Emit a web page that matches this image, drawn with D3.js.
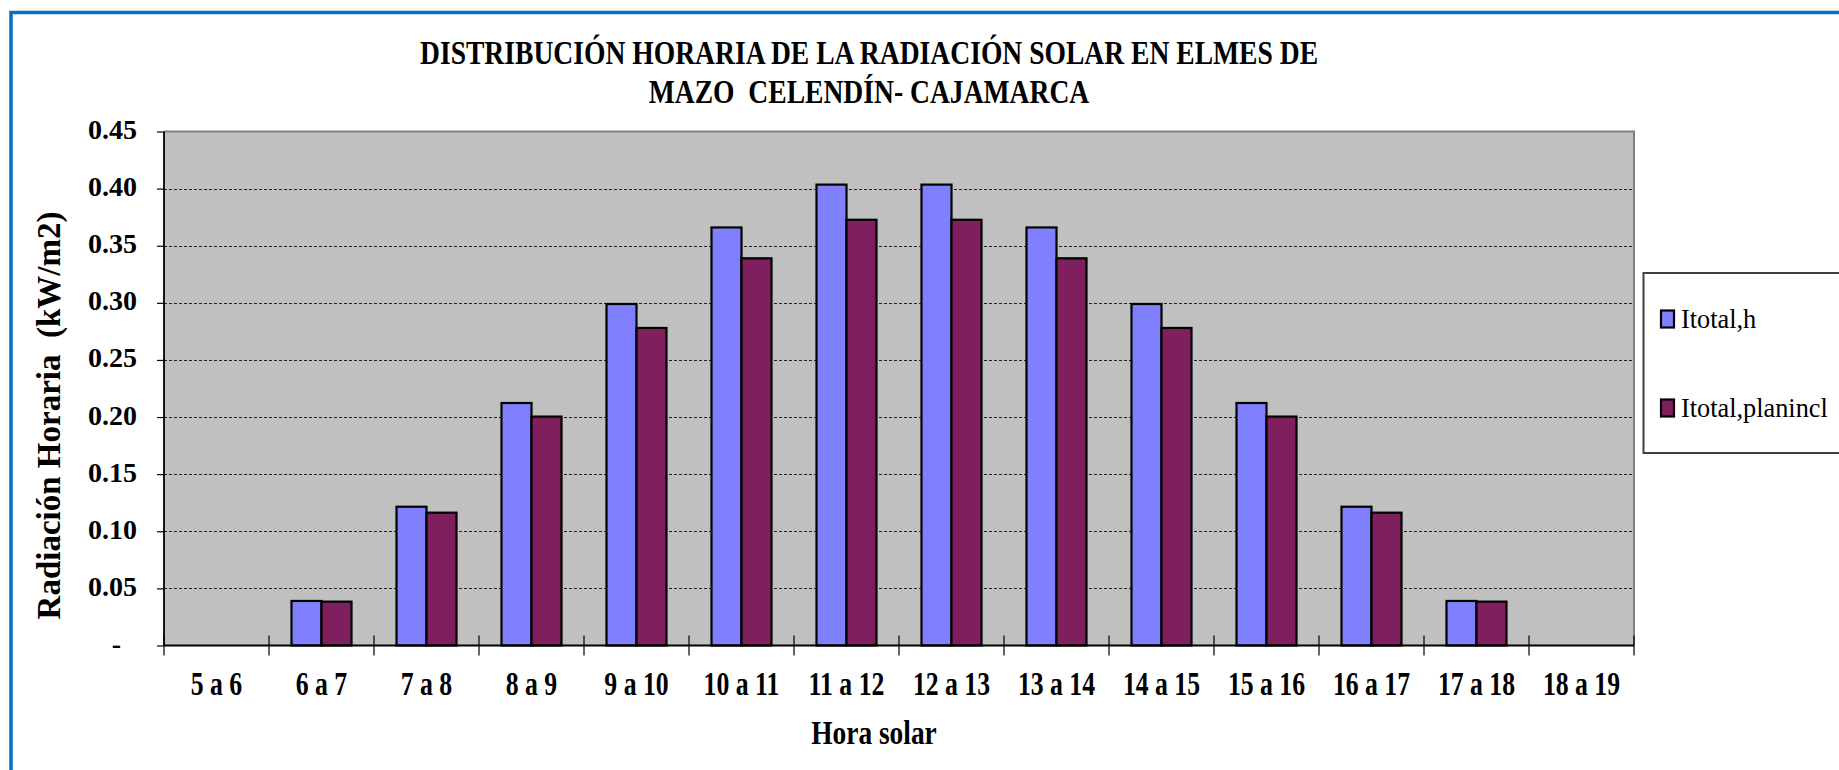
<!DOCTYPE html>
<html>
<head>
<meta charset="utf-8">
<script src="https://cdn.jsdelivr.net/npm/d3@7"></script>
<style>
  html, body { margin: 0; padding: 0; background: #ffffff; }
  svg { display: block; }
  text { font-family: "Liberation Serif", "Times New Roman", serif; }
</style>
</head>
<body>
<script>
// Hourly solar radiation, March — Celendín, Cajamarca
const categories = ["5 a 6", "6 a 7", "7 a 8", "8 a 9", "9 a 10", "10 a 11", "11 a 12",
                    "12 a 13", "13 a 14", "14 a 15", "15 a 16", "16 a 17", "17 a 18", "18 a 19"];
const seriesNames = ["Itotal,h", "Itotal,planincl"];
const itotalH =        [0, 0.039, 0.1215, 0.2123, 0.299, 0.366, 0.4035, 0.4035, 0.366, 0.299, 0.2123, 0.1215, 0.039, 0];
const itotalPlanincl = [0, 0.0384, 0.1163, 0.2004, 0.278, 0.339, 0.3727, 0.3727, 0.339, 0.278, 0.2004, 0.1163, 0.0384, 0];
const yTicks = [0, 0.05, 0.10, 0.15, 0.20, 0.25, 0.30, 0.35, 0.40, 0.45];
const titleLines = ["DISTRIBUCIÓN HORARIA DE LA RADIACIÓN SOLAR EN ELMES DE", "MAZO  CELENDÍN- CAJAMARCA"];
const xTitle = "Hora solar";
const yTitle = "Radiación Horaria  (kW/m2)";

const seriesValues = [itotalH, itotalPlanincl];
const colors = ["#8080FF", "#801F5E"];

const W = 1839, H = 770;
const plot = { left: 164, right: 1634, top: 131.5, bottom: 645.5 };

const svg = d3.select("body").append("svg").attr("width", W).attr("height", H);
svg.append("rect").attr("width", W).attr("height", H).attr("fill", "#ffffff");

// outer frame of the chart object
svg.append("rect")
  .attr("x", 11).attr("y", 12.5).attr("width", W + 40).attr("height", H + 40)
  .attr("fill", "none").attr("stroke", "#0A6FC2").attr("stroke-width", 3.5);

const x0 = d3.scaleBand().domain(categories).range([plot.left, plot.right]).padding(0);
const bw = x0.bandwidth();
const groupOffset = bw * (1.5 / 3.5) / 2;
const x1 = d3.scaleBand().domain(seriesNames).range([groupOffset, bw - groupOffset]).padding(0);
const y = d3.scaleLinear().domain([0, 0.45]).range([plot.bottom, plot.top]);

// plot area
svg.append("rect")
  .attr("x", plot.left).attr("y", plot.top)
  .attr("width", plot.right - plot.left).attr("height", plot.bottom - plot.top)
  .attr("fill", "#C0C0C0");

// gridlines
svg.append("g").selectAll("line")
  .data(yTicks.filter(t => t > 0 && t < 0.45))
  .join("line")
  .attr("x1", plot.left).attr("x2", plot.right)
  .attr("y1", d => Math.round(y(d)) + 0.5).attr("y2", d => Math.round(y(d)) + 0.5)
  .attr("stroke", "#222").attr("stroke-width", 1.2).attr("stroke-dasharray", "3,2");

// plot area border (top / right)
svg.append("path")
  .attr("d", `M${plot.left},${plot.top}H${plot.right}V${plot.bottom}`)
  .attr("fill", "none").attr("stroke", "#808080").attr("stroke-width", 2);

// bars
const groups = svg.append("g").selectAll("g")
  .data(categories)
  .join("g")
  .attr("transform", d => `translate(${x0(d)},0)`);

groups.selectAll("rect")
  .data((d, i) => seriesNames.map((s, k) => ({ s, v: seriesValues[k][i], k })).filter(e => e.v > 0))
  .join("rect")
  .attr("x", d => x1(d.s))
  .attr("width", x1.bandwidth())
  .attr("y", d => y(d.v))
  .attr("height", d => y(0) - y(d.v))
  .attr("fill", d => colors[d.k])
  .attr("stroke", "#000").attr("stroke-width", 2.2);

// y axis
const yAxis = svg.append("g").attr("transform", `translate(${plot.left},0)`)
  .call(d3.axisLeft(y).tickValues(yTicks).tickSize(7).tickFormat(""));
yAxis.select(".domain").attr("stroke", "#000").attr("stroke-width", 1.8).attr("d", `M0,${plot.top}V${plot.bottom}`);
yAxis.selectAll(".tick line").attr("stroke", "#000").attr("stroke-width", 1.2);

svg.append("g").selectAll("text")
  .data(yTicks)
  .join("text")
  .attr("x", d => d === 0 ? 121 : 137)
  .attr("y", d => y(d) + 7.5)
  .attr("text-anchor", "end")
  .attr("font-size", 28).attr("font-weight", "bold").attr("fill", "#000")
  .text(d => d === 0 ? "-" : d3.format(".2f")(d));

// x axis with crossing tick marks at category boundaries
const xAxis = svg.append("g").attr("transform", `translate(0,${plot.bottom})`);
xAxis.append("line")
  .attr("x1", plot.left).attr("x2", plot.right)
  .attr("stroke", "#000").attr("stroke-width", 1.8);
xAxis.selectAll("line.tk")
  .data(categories.map(c => x0(c)).concat([plot.right]))
  .join("line").attr("class", "tk")
  .attr("x1", d => d).attr("x2", d => d)
  .attr("y1", -10).attr("y2", 10)
  .attr("stroke", "#000").attr("stroke-width", 1.2);

svg.append("g").selectAll("g")
  .data(categories)
  .join("g")
  .attr("transform", d => `translate(${x0(d) + bw / 2},695) scale(0.78,1)`)
  .append("text")
  .attr("text-anchor", "middle")
  .attr("font-size", 33).attr("font-weight", "bold").attr("fill", "#000")
  .text(d => d);

// titles
svg.append("g").selectAll("g")
  .data(titleLines)
  .join("g")
  .attr("transform", (d, i) => `translate(869,${64 + i * 39}) scale(0.836,1)`)
  .append("text")
  .attr("text-anchor", "middle")
  .attr("font-size", 33).attr("font-weight", "bold").attr("fill", "#000")
  .style("white-space", "pre")
  .text(d => d);

svg.append("g")
  .attr("transform", "translate(874,744) scale(0.83,1)")
  .append("text")
  .attr("text-anchor", "middle")
  .attr("font-size", 33).attr("font-weight", "bold").attr("fill", "#000")
  .text(xTitle);

svg.append("text")
  .attr("transform", "translate(60,415.5) rotate(-90)")
  .attr("text-anchor", "middle")
  .attr("font-size", 33).attr("font-weight", "bold").attr("fill", "#000")
  .style("white-space", "pre")
  .text(yTitle);

// legend
const legend = svg.append("g");
legend.append("rect")
  .attr("x", 1643.5).attr("y", 273).attr("width", 260).attr("height", 180)
  .attr("fill", "#ffffff").attr("stroke", "#404040").attr("stroke-width", 2);
const items = legend.selectAll("g.item")
  .data(seriesNames)
  .join("g").attr("class", "item")
  .attr("transform", (d, i) => `translate(0,${i * 89})`);
items.append("rect")
  .attr("x", 1661).attr("y", 310.5).attr("width", 13).attr("height", 17)
  .attr("fill", (d, i) => colors[i]).attr("stroke", "#000").attr("stroke-width", 2.2);
items.append("g")
  .attr("transform", "translate(1681,328) scale(0.94,1)")
  .append("text")
  .attr("font-size", 28).attr("fill", "#000")
  .text(d => d);
</script>
</body>
</html>
